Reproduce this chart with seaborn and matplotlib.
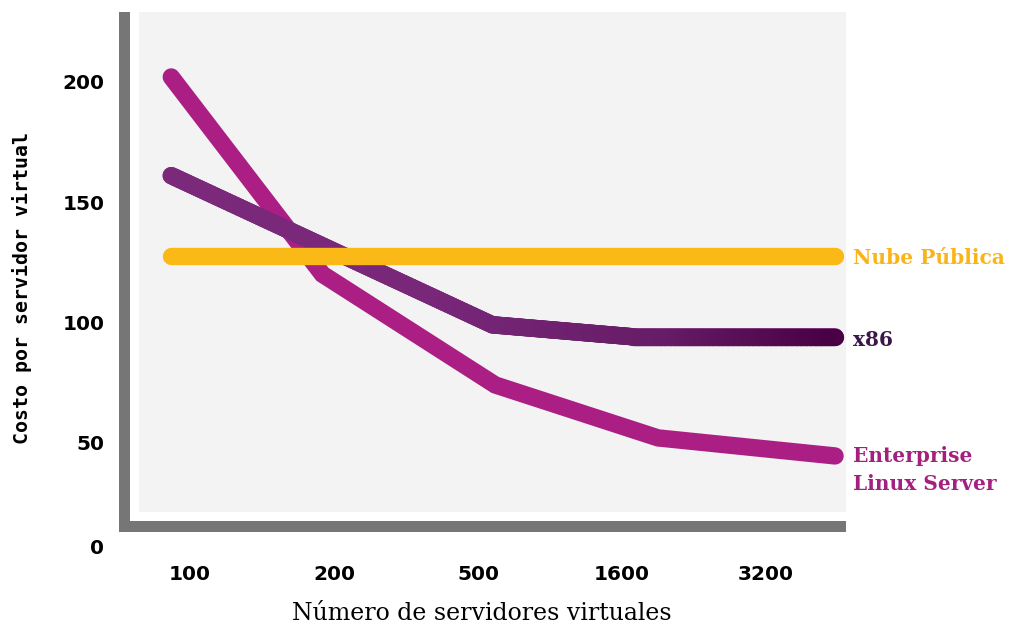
import numpy as np
import pandas as pd
import matplotlib
matplotlib.use("Agg")
import matplotlib.pyplot as plt
import seaborn as sns
from matplotlib.collections import LineCollection
from matplotlib.colors import LinearSegmentedColormap
from matplotlib.patches import Rectangle

# ---- data -------------------------------------------------------------
server_counts = ["100", "200", "500", "1600", "3200"]
y_ticks = [50, 100, 150, 200]

# vertex positions on the category axis (0 = "100", 4 = "3200")
els_pos = [-0.13, 0.92, 2.12, 3.25, 4.48]
els_cost = [202, 120, 74, 52, 44.5]

x86_pos = [-0.13, 2.10, 3.08, 4.48]
x86_cost = [161, 99, 94, 94]

nube_pos = [-0.13, 4.48]
nube_cost = [127.5, 127.5]

series_names = ["Enterprise\nLinux Server", "x86", "Nube Pública"]
series_colors = ["#ab1f84", "#7a2a7b", "#fbb917"]
label_colors = ["#a3207f", "#3b1748", "#fbb417"]

# ---- styling ----------------------------------------------------------
sns.set_theme(style="white")
BG = "#f2f3f2"
BAR = "#767676"
LW = 12.5

df = pd.concat([
    pd.DataFrame({"serie": series_names[0], "pos": els_pos, "cost": els_cost}),
    pd.DataFrame({"serie": series_names[1], "pos": x86_pos, "cost": x86_cost}),
    pd.DataFrame({"serie": series_names[2], "pos": nube_pos, "cost": nube_cost}),
], ignore_index=True)

W, H = 1011, 626
fig = plt.figure(figsize=(W / 100, H / 100), dpi=100)
ax = fig.add_axes([139 / W, (H - 512) / H, (846 - 139) / W, (512 - 12) / H])
ax.set_facecolor(BG)
for s in ax.spines.values():
    s.set_visible(False)

sns.lineplot(
    data=df, x="pos", y="cost", hue="serie", hue_order=series_names,
    palette=dict(zip(series_names, series_colors)), sort=False,
    estimator=None, legend=False, linewidth=LW,
    solid_capstyle="round", solid_joinstyle="miter", ax=ax,
)

# x86 drawn again with a left-to-right darkening gradient
grad = LinearSegmentedColormap.from_list(
    "x86", [(0.0, "#7b2a7b"), (0.4, "#792779"), (0.75, "#661c66"), (1.0, "#4a0044")]
)
px, py = [], []
for i in range(len(x86_pos) - 1):
    t = np.linspace(0, 1, 80, endpoint=False)
    px.extend(x86_pos[i] + t * (x86_pos[i + 1] - x86_pos[i]))
    py.extend(x86_cost[i] + t * (x86_cost[i + 1] - x86_cost[i]))
px.append(x86_pos[-1])
py.append(x86_cost[-1])
pts = np.column_stack([px, py])
segs = np.stack([pts[:-1], pts[1:]], axis=1)
frac = (pts[:-1, 0] - x86_pos[0]) / (x86_pos[-1] - x86_pos[0])
lc = LineCollection(segs, colors=grad(frac), linewidths=LW,
                    capstyle="round", joinstyle="round", zorder=2.5)
ax.add_collection(lc)
ax.lines[-1].set_zorder(3)

ax.set_xlim(-0.354, 4.556)
ax.set_ylim(21.2, 229)

tick_font = dict(family="DejaVu Sans", weight="bold", size=14.5)
ax.set_xticks(range(len(server_counts)))
ax.set_xticklabels(server_counts, **tick_font)
ax.set_yticks(y_ticks)
ax.set_yticklabels([str(v) for v in y_ticks], **tick_font)
ax.tick_params(axis="x", length=0, pad=38, colors="black")
ax.tick_params(axis="y", length=0, pad=25, colors="black")
ax.text(104 / W, (H - 548) / H, "0", transform=fig.transFigure,
        ha="right", va="center", color="black", **tick_font)

ax.set_xlabel("Número de servidores virtuales", family="DejaVu Serif",
              size=17, color="black", va="center")
ax.xaxis.set_label_coords(482 / W, (H - 614) / H, transform=fig.transFigure)
ax.set_ylabel("Costo por servidor virtual", family="DejaVu Sans Mono",
              weight="bold", size=14.3, color="black", va="center")
ax.yaxis.set_label_coords(22 / W, (H - 288) / H, transform=fig.transFigure)

# thick L-shaped frame
fig.add_artist(Rectangle((119 / W, (H - 532) / H), 11 / W, 520 / H,
                         transform=fig.transFigure, color=BAR, lw=0))
fig.add_artist(Rectangle((119 / W, (H - 532) / H), (846 - 119) / W, 11 / H,
                         transform=fig.transFigure, color=BAR, lw=0))

# end labels
lab_font = dict(family="DejaVu Serif", size=14.5, weight="bold")
ax.text(853 / W, (H - 258) / H, series_names[2], transform=fig.transFigure,
        color=label_colors[2], ha="left", va="center", **lab_font)
ax.text(853 / W, (H - 340) / H, series_names[1], transform=fig.transFigure,
        color=label_colors[1], ha="left", va="center", **lab_font)
ax.text(853 / W, (H - 470) / H, series_names[0], transform=fig.transFigure,
        color=label_colors[0], ha="left", va="center", linespacing=1.45,
        **lab_font)

fig.savefig("out.png", dpi=100, facecolor="white")
